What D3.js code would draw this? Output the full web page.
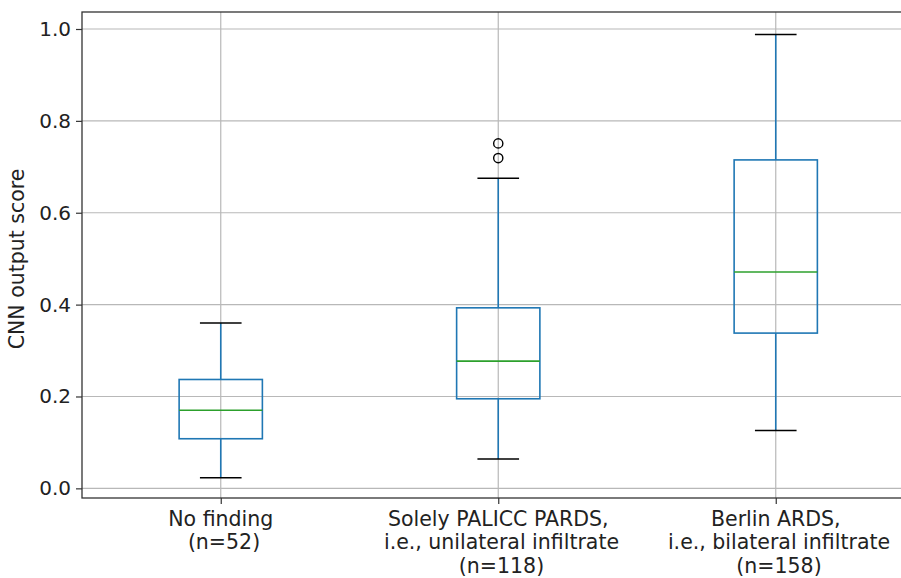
<!DOCTYPE html>
<html>
<head>
<meta charset="utf-8">
<script src="https://cdn.jsdelivr.net/npm/d3@7"></script>
<style>
    body { margin: 0; background: #fff; }
    svg { display: block; font-family: "DejaVu Sans", sans-serif; }
</style>
</head>
<body>
<svg id="chart" width="901" height="578"></svg>
<script>
// box plot values
let categories = ["No finding", "Solely PALICC PARDS", "Berlin ARDS"];
let tickLabels = [
    ["No finding", " (n=52)"],
    ["Solely PALICC PARDS,", " i.e., unilateral infiltrate", " (n=118)"],
    ["Berlin ARDS,", " i.e., bilateral infiltrate", " (n=158)"]
];
let whiskerLow = [0.023, 0.064, 0.126];
let q1 = [0.108, 0.195, 0.338];
let median = [0.170, 0.277, 0.471];
let q3 = [0.237, 0.393, 0.715];
let whiskerHigh = [0.360, 0.675, 0.988];
let outliers = [[], [0.719, 0.751], []];
let yTicks = [0.0, 0.2, 0.4, 0.6, 0.8, 1.0];

let svg = d3.select("#chart");

// plot area (right edge runs past the picture like the original)
let plotLeft = 82, plotRight = 914.5, plotTop = 12, plotBottom = 498;

let x = d3.scaleLinear().domain([0.5, 3.5]).range([plotLeft, plotRight]);
let y = d3.scaleLinear().domain([-0.021, 1.037]).range([plotBottom, plotTop]);

let boxW = x(1.3) - x(1);
let capW = boxW / 2;

let data = categories.map((c, i) => ({
    name: c,
    pos: i + 1,
    lo: whiskerLow[i],
    q1: q1[i],
    med: median[i],
    q3: q3[i],
    hi: whiskerHigh[i],
    out: outliers[i]
}));

// grid lines
let grid = svg.append("g").attr("stroke", "#b8b8b8").attr("stroke-width", 1.2);
grid.selectAll("line.h").data(yTicks).enter().append("line")
    .attr("x1", plotLeft).attr("x2", plotRight)
    .attr("y1", d => y(d)).attr("y2", d => y(d));
grid.selectAll("line.v").data(data).enter().append("line")
    .attr("x1", d => x(d.pos)).attr("x2", d => x(d.pos))
    .attr("y1", plotTop).attr("y2", plotBottom);

// boxes
let g = svg.selectAll("g.box").data(data).enter().append("g").attr("class", "box");

g.append("line")
    .attr("x1", d => x(d.pos)).attr("x2", d => x(d.pos))
    .attr("y1", d => y(d.lo)).attr("y2", d => y(d.q1))
    .attr("stroke", "#1f77b4").attr("stroke-width", 1.6);
g.append("line")
    .attr("x1", d => x(d.pos)).attr("x2", d => x(d.pos))
    .attr("y1", d => y(d.q3)).attr("y2", d => y(d.hi))
    .attr("stroke", "#1f77b4").attr("stroke-width", 1.6);

g.append("rect")
    .attr("x", d => x(d.pos) - boxW / 2)
    .attr("width", boxW)
    .attr("y", d => y(d.q3))
    .attr("height", d => y(d.q1) - y(d.q3))
    .attr("fill", "none")
    .attr("stroke", "#1f77b4").attr("stroke-width", 1.6);

g.append("line")
    .attr("x1", d => x(d.pos) - boxW / 2).attr("x2", d => x(d.pos) + boxW / 2)
    .attr("y1", d => y(d.med)).attr("y2", d => y(d.med))
    .attr("stroke", "#2ca02c").attr("stroke-width", 1.6);

// caps
["lo", "hi"].forEach(k => {
    g.append("line")
        .attr("x1", d => x(d.pos) - capW / 2).attr("x2", d => x(d.pos) + capW / 2)
        .attr("y1", d => y(d[k])).attr("y2", d => y(d[k]))
        .attr("stroke", "#000").attr("stroke-width", 1.6);
});

// fliers
g.selectAll("circle").data(d => d.out.map(v => ({pos: d.pos, v: v}))).enter().append("circle")
    .attr("cx", d => x(d.pos)).attr("cy", d => y(d.v))
    .attr("r", 4.6)
    .attr("fill", "none").attr("stroke", "#000").attr("stroke-width", 1.4);

// axes
let yAxis = svg.append("g")
    .attr("transform", "translate(" + plotLeft + ",0)")
    .call(d3.axisLeft(y).tickValues(yTicks).tickFormat(d3.format(".1f")).tickSize(6).tickPadding(5));
let xAxis = svg.append("g")
    .attr("transform", "translate(0," + plotBottom + ")")
    .call(d3.axisBottom(x).tickValues([1, 2, 3]).tickFormat("").tickSize(6));

[xAxis, yAxis].forEach(a => {
    a.select(".domain").remove();
    a.selectAll(".tick line").attr("stroke", "#333").attr("stroke-width", 1.2);
    a.selectAll("text").attr("fill", "#222").style("font-size", "20px").attr("font-family", "DejaVu Sans");
});

// multi line x labels
let xl = svg.append("g").attr("font-size", "20.5px").attr("fill", "#222");
data.forEach((d, i) => {
    let t = xl.append("text")
        .attr("text-anchor", "middle")
        .attr("x", x(d.pos))
        .attr("y", 526)
        .style("white-space", "pre");
    tickLabels[i].forEach((line, j) => {
        t.append("tspan").attr("x", x(d.pos)).attr("y", 526 + j * 23.3).text(line);
    });
});

// frame
svg.append("rect")
    .attr("x", plotLeft).attr("y", plotTop)
    .attr("width", plotRight - plotLeft).attr("height", plotBottom - plotTop)
    .attr("fill", "none").attr("stroke", "#333").attr("stroke-width", 1.3);

// y label
svg.append("text")
    .attr("transform", "translate(24," + ((plotTop + plotBottom) / 2 + 4) + ") rotate(-90)")
    .attr("text-anchor", "middle")
    .attr("font-size", "20.5px")
    .attr("fill", "#222")
    .text("CNN output score");
</script>
</body>
</html>
